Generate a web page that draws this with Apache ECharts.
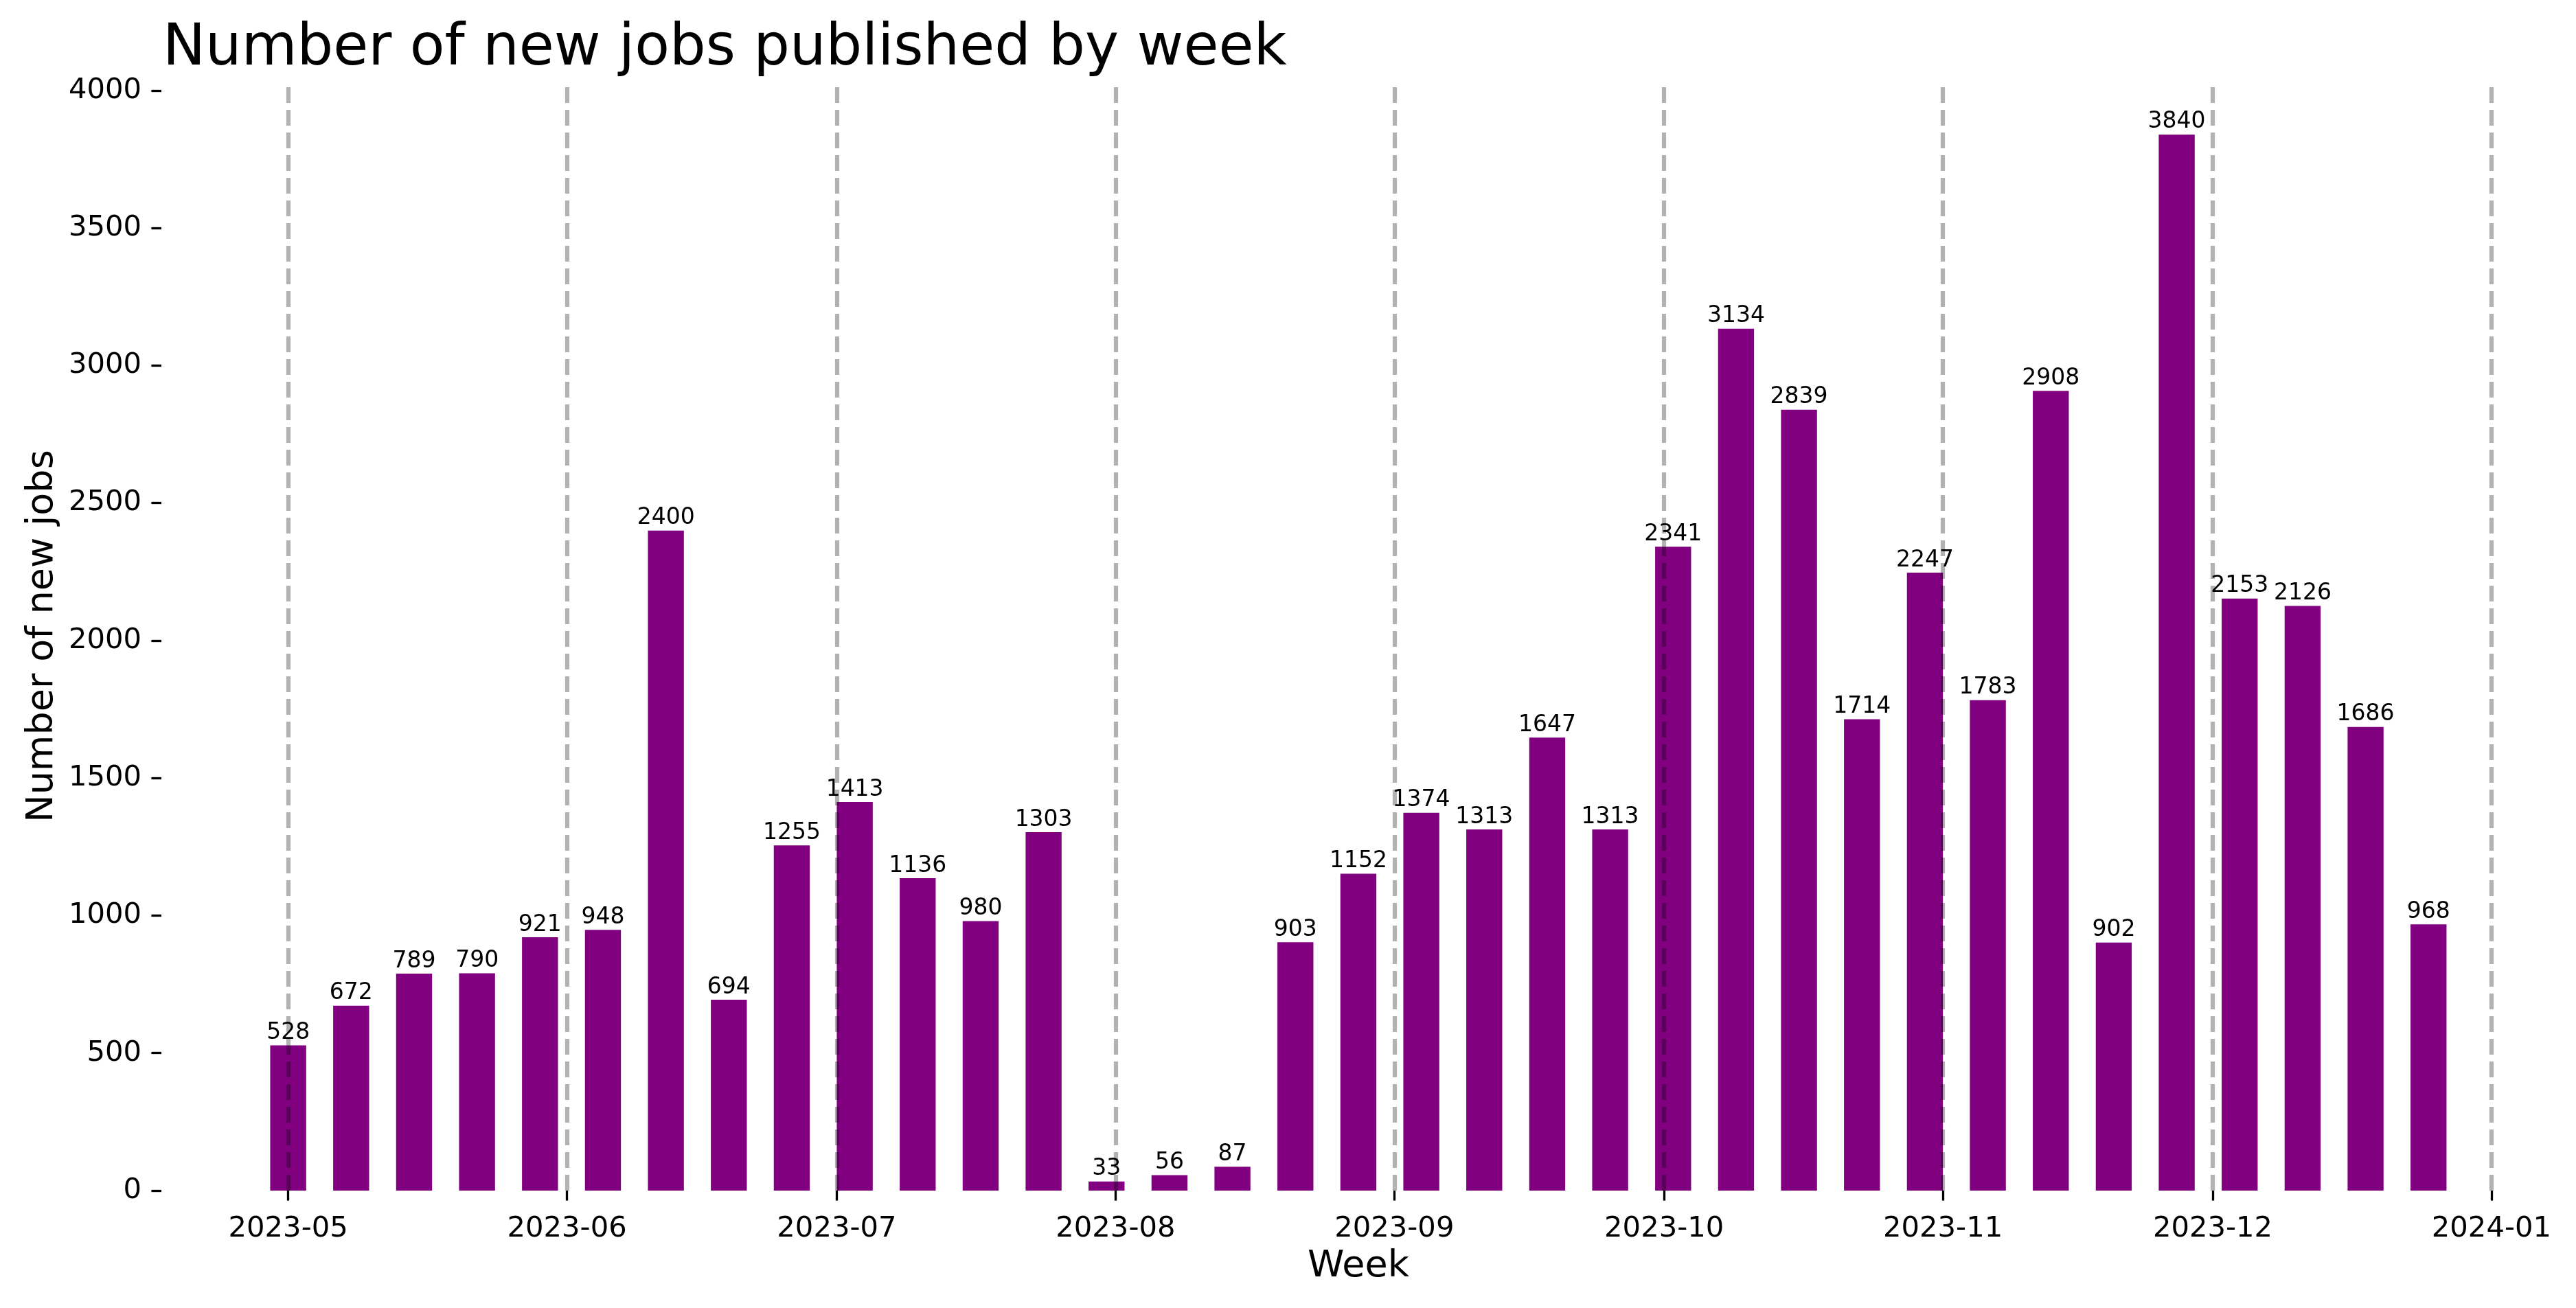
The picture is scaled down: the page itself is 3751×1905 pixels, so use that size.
<!DOCTYPE html>
<html>
<head>
<meta charset="utf-8">
<script src="https://cdn.jsdelivr.net/npm/echarts@6/dist/echarts.min.js"></script>
<style>
html, body { margin: 0; padding: 0; background: #ffffff; }
#chart { width: 3751px; height: 1905px; }
</style>
</head>
<body>
<div id="chart"></div>
<script>
// ---- data ----
const weeks = [
  '2023-05-01', '2023-05-08', '2023-05-15', '2023-05-22', '2023-05-29',
  '2023-06-05', '2023-06-12', '2023-06-19', '2023-06-26',
  '2023-07-03', '2023-07-10', '2023-07-17', '2023-07-24', '2023-07-31',
  '2023-08-07', '2023-08-14', '2023-08-21', '2023-08-28',
  '2023-09-04', '2023-09-11', '2023-09-18', '2023-09-25',
  '2023-10-02', '2023-10-09', '2023-10-16', '2023-10-23', '2023-10-30',
  '2023-11-06', '2023-11-13', '2023-11-20', '2023-11-27',
  '2023-12-04', '2023-12-11', '2023-12-18', '2023-12-25'
];
const newJobs = [
  528, 672, 789, 790, 921,
  948, 2400, 694, 1255,
  1413, 1136, 980, 1303, 33,
  56, 87, 903, 1152,
  1374, 1313, 1647, 1313,
  2341, 3134, 2839, 1714, 2247,
  1783, 2908, 902, 3840,
  2153, 2126, 1686, 968
];
const monthStarts = [
  '2023-05-01', '2023-06-01', '2023-07-01', '2023-08-01', '2023-09-01',
  '2023-10-01', '2023-11-01', '2023-12-01', '2024-01-01'
];
const monthLabels = [
  '2023-05', '2023-06', '2023-07', '2023-08', '2023-09',
  '2023-10', '2023-11', '2023-12', '2024-01'
];
const yTicks = [0, 500, 1000, 1500, 2000, 2500, 3000, 3500, 4000];
const xRange = ['2023-04-16T21:36:00Z', '2024-01-08T02:24:00Z'];
const yMax = 4032;

// ---- build ----
const ms = s => Date.parse(s.length === 10 ? s + 'T00:00:00Z' : s);
const weekMs = weeks.map(ms);
const monthMs = monthStarts.map(ms);
const barData = weekMs.map((t, i) => [t, newJobs[i]]);

const FONT = 'DejaVu Sans';
const pxPerDay = 13.095;
const gridLeft = 235;
const gridWidth = (ms(xRange[1]) - ms(xRange[0])) / 86400000 * pxPerDay;

const chart = echarts.init(document.getElementById('chart'), null, { renderer: 'canvas' });
chart.setOption({
  animation: false,
  backgroundColor: '#ffffff',
  title: {
    text: 'Number of new jobs published by week',
    left: 232,
    top: 26,
    textStyle: { fontFamily: FONT, fontSize: 83, fontWeight: 'normal', color: '#000000' }
  },
  grid: { left: gridLeft, top: 119, width: gridWidth, height: 1615, outerBoundsMode: 'none', containLabel: false },
  xAxis: {
    type: 'value',
    min: ms(xRange[0]),
    max: ms(xRange[1]),
    name: 'Week',
    nameLocation: 'middle',
    nameGap: 84,
    nameTextStyle: { fontFamily: FONT, fontSize: 54, color: '#000000' },
    axisLine: { show: false },
    splitLine: { show: false },
    axisTick: {
      show: true,
      customValues: monthMs,
      length: 14.6,
      lineStyle: { color: '#000000', width: 3.3 }
    },
    axisLabel: {
      customValues: monthMs,
      margin: 35,
      fontFamily: FONT,
      fontSize: 41.7,
      color: '#000000',
      formatter: function (v) {
        const i = monthMs.indexOf(v);
        return i >= 0 ? monthLabels[i] : '';
      }
    }
  },
  yAxis: {
    type: 'value',
    min: 0,
    max: yMax,
    name: 'Number of new jobs',
    nameLocation: 'middle',
    nameGap: 142,
    nameTextStyle: { fontFamily: FONT, fontSize: 54, color: '#000000' },
    axisLine: { show: false },
    splitLine: { show: false },
    axisTick: {
      show: true,
      customValues: yTicks,
      length: 14.6,
      lineStyle: { color: '#000000', width: 3.3 }
    },
    axisLabel: {
      customValues: yTicks,
      margin: 29,
      fontFamily: FONT,
      fontSize: 41.7,
      color: '#000000',
      formatter: v => String(v)
    }
  },
  series: [
    {
      type: 'bar',
      z: 2,
      data: barData,
      barWidth: 4 * pxPerDay,
      itemStyle: { color: '#800080' }
    },
    {
      type: 'line',
      z: 3,
      data: [],
      markLine: {
        silent: true,
        symbol: ['none', 'none'],
        label: { show: false },
        lineStyle: { color: 'rgba(0,0,0,0.3)', width: 6.25, type: [23, 10] },
        data: monthMs.map(t => ({ xAxis: t }))
      }
    },
    {
      type: 'scatter',
      z: 4,
      data: barData,
      symbolSize: 1,
      itemStyle: { color: 'rgba(0,0,0,0)' },
      label: {
        show: true,
        position: 'top',
        distance: 1,
        opacity: 1,
        fontFamily: FONT,
        fontSize: 33,
        color: '#000000',
        formatter: p => String(p.value[1])
      }
    }
  ]
});
</script>
</body>
</html>
